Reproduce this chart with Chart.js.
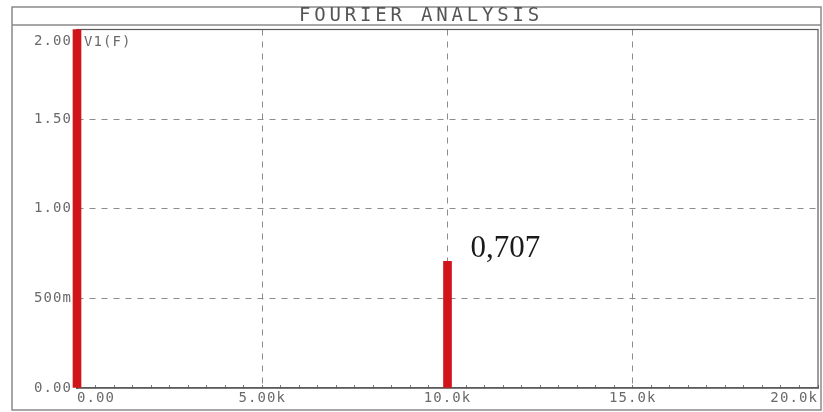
<!DOCTYPE html>
<html>
<head>
<meta charset="utf-8">
<title>Fourier Analysis</title>
<script src="https://cdn.jsdelivr.net/npm/chart.js@4.4.1/dist/chart.umd.min.js"></script>
<style>
  html, body { margin: 0; padding: 0; background: #fff; }
  #wrap { position: relative; width: 823px; height: 412px; }
</style>
</head>
<body>
<div id="wrap"><canvas id="fourierChart"></canvas></div>
<script>
// --- Data ---
const freqs = [0, 10000];          // Hz
const magnitudes = [2.0, 0.707];   // V1(F)
const xTicks = [0, 5000, 10000, 15000, 20000];
const xTickLabels = ["0.00", "5.00k", "10.0k", "15.0k", "20.0k"];
const yTicks = [0, 0.5, 1, 1.5, 2];
const yTickLabels = ["0.00", "500m", "1.00", "1.50", "2.00"];
const chartTitle = "FOURIER ANALYSIS";
const traceName = "V1(F)";
const peakLabel = "0,707";

const MONO = '"DejaVu Sans Mono", "Liberation Mono", monospace';
const GRID_COLOR = "#8c8c8c";
const AXIS_COLOR = "#5a5a5a";
const LABEL_COLOR = "#6a6a6a";
const TICK_SPACING = "1.1px";

// letter spacing for tick labels (PSpice style wide font)
const spacingPlugin = {
  id: "spacing",
  beforeLayout(chart) { chart.ctx.letterSpacing = TICK_SPACING; },
  beforeDraw(chart) { chart.ctx.letterSpacing = TICK_SPACING; },
};

// frame, title band, trace name and the peak annotation
const framePlugin = {
  id: "frame",
  beforeDatasetsDraw(chart) {
    const { ctx, chartArea } = chart;
    ctx.save();
    ctx.strokeStyle = "#8a8a8a";
    ctx.lineWidth = 1.5;
    ctx.strokeRect(12, 7, 809, 403);
    ctx.beginPath();
    ctx.moveTo(12, 25);
    ctx.lineTo(821, 25);
    ctx.stroke();

    ctx.strokeStyle = AXIS_COLOR;
    ctx.lineWidth = 1.2;
    ctx.strokeRect(chartArea.left, chartArea.top, chartArea.right - chartArea.left, chartArea.bottom - chartArea.top);
    ctx.restore();
  },
  afterDraw(chart) {
    const { ctx, chartArea, scales } = chart;
    ctx.save();
    // title
    ctx.letterSpacing = "3.8px";
    ctx.fillStyle = "#555";
    ctx.font = "19px " + MONO;
    ctx.textAlign = "center";
    ctx.textBaseline = "middle";
    ctx.fillText(chartTitle, 421, 16);

    // trace name
    ctx.letterSpacing = TICK_SPACING;
    ctx.fillStyle = LABEL_COLOR;
    ctx.font = "14px " + MONO;
    ctx.textAlign = "left";
    ctx.fillText(traceName, chartArea.left + 7, chartArea.top + 13);

    // peak value
    ctx.letterSpacing = "0px";
    ctx.fillStyle = "#1a1a1a";
    ctx.font = '31px "Liberation Serif", "DejaVu Serif", serif';
    ctx.textBaseline = "alphabetic";
    const px = scales.x.getPixelForValue(freqs[1]);
    const py = scales.y.getPixelForValue(magnitudes[1]);
    ctx.fillText(peakLabel, px + 23, py - 4);
    ctx.restore();
  },
};

document.addEventListener("DOMContentLoaded", function () {
  const ctx = document.getElementById("fourierChart").getContext("2d");

  new Chart(ctx, {
    type: "bar",
    data: {
      datasets: [
        {
          label: traceName,
          data: freqs.map((f, i) => ({ x: f, y: magnitudes[i] })),
          backgroundColor: "#d0141a",
          borderWidth: 0,
          barThickness: 8,
          clip: false,
        },
      ],
    },
    options: {
      responsive: true,
      maintainAspectRatio: false,
      animation: false,
      layout: { padding: { left: 14, right: 3, top: 29, bottom: 4 } },
      plugins: {
        legend: { display: false },
        tooltip: { enabled: false },
      },
      scales: {
        x: {
          type: "linear",
          min: 0,
          max: 20000,
          offset: false,
          afterFit: (scale) => { scale.height = 20; },
          afterBuildTicks: (scale) => {
            const t = [];
            for (let v = 0; v <= 20000; v += 500) t.push({ value: v });
            scale.ticks = t;
          },
          ticks: {
            autoSkip: false,
            maxRotation: 0,
            align: "inner",
            padding: 5,
            color: LABEL_COLOR,
            font: { family: MONO, size: 14 },
            callback: (value) => {
              const i = xTicks.indexOf(value);
              return i >= 0 ? xTickLabels[i] : "";
            },
          },
          grid: {
            offset: false,
            color: (c) => {
              const v = c.tick ? c.tick.value : 0;
              return v % 5000 === 0 && v > 0 && v < 20000 ? GRID_COLOR : "rgba(0,0,0,0)";
            },
            tickColor: "#777",
            tickLength: -3,
            lineWidth: 1,
          },
          border: { display: true, color: AXIS_COLOR, width: 1.5, dash: [6, 6] },
        },
        y: {
          min: 0,
          max: 2,
          afterFit: (scale) => { scale.width = 63; },
          ticks: {
            stepSize: 0.5,
            padding: 5,
            color: LABEL_COLOR,
            font: { family: MONO, size: 14, lineHeight: 1.75 },
            callback: (value) => {
              const i = yTicks.indexOf(value);
              if (i < 0) return "";
              // top label sits just below the plot edge
              return i === yTicks.length - 1 ? ["", yTickLabels[i]] : yTickLabels[i];
            },
          },
          grid: {
            drawTicks: false,
            color: (c) => {
              const v = c.tick ? c.tick.value : 0;
              return v > 0 && v < 2 ? GRID_COLOR : "rgba(0,0,0,0)";
            },
            lineWidth: 1,
          },
          border: { display: true, color: AXIS_COLOR, width: 1.5, dash: [6, 6] },
        },
      },
    },
    plugins: [spacingPlugin, framePlugin],
  });
});
</script>
</body>
</html>
